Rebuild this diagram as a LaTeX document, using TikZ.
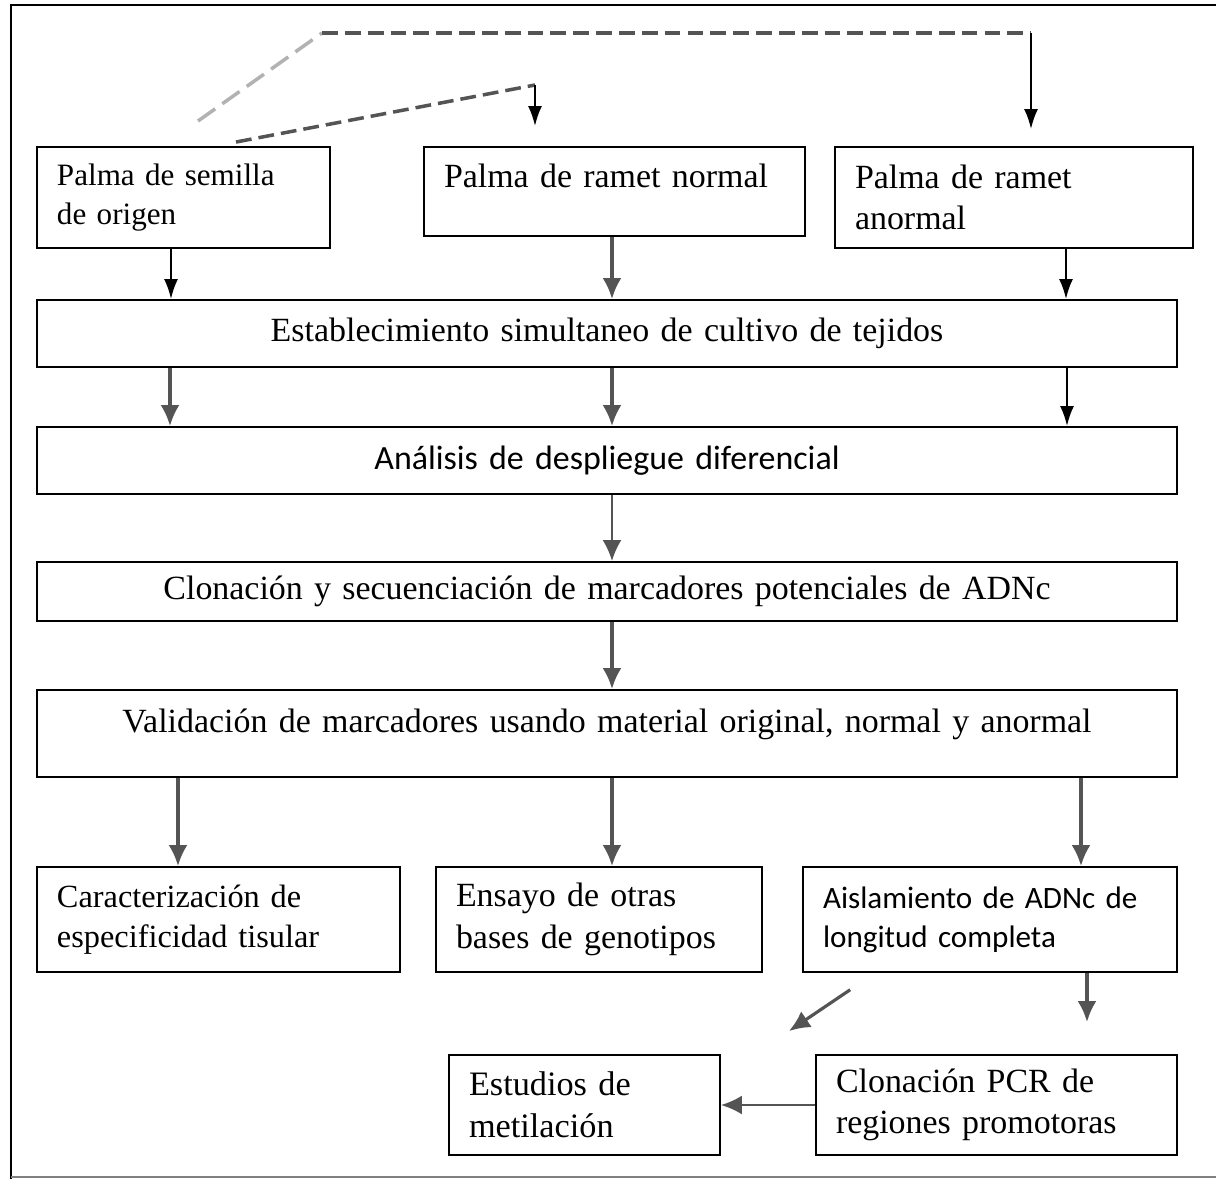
\documentclass[tikz,border=0pt]{standalone}
\usepackage{fontspec}
\setmainfont{Liberation Serif}
\newfontfamily\calibri{Carlito}
\usepackage{tikz}
\usetikzlibrary{arrows.meta,positioning}
\definecolor{flecha}{rgb}{0.33, 0.33, 0.33}
\tikzstyle{every node}=[font=\fontsize{19.3}{23.5}\selectfont]
\tikzstyle{chica}=[font=\fontsize{17.7}{22.2}\selectfont]
\tikzstyle{sans}=[font=\calibri\fontsize{19.3}{23.5}\selectfont]
\tikzstyle{caja}=[draw, line width=1.1pt, rectangle, inner xsep=0.4cm, inner ysep=0pt]
\tikzstyle{gruesa}=[draw=flecha, line width=1.8pt, -{Latex[length=0.42cm,width=0.38cm]}]
\tikzstyle{fina}=[draw=black, line width=1.2pt, -{Latex[length=0.4cm,width=0.28cm]}]
\tikzstyle{punteada}=[draw=flecha, line width=2pt, dash pattern=on 9pt off 4pt]

\begin{document}
\begin{tikzpicture}[scale=1]

\useasboundingbox (0,0) rectangle (24.32,-23.58);
\draw[line width=1.6pt] (0.22,-23.58) -- (0.22,-0.10) -- (24.32,-0.10);
\draw[gray, line width=1pt] (0.22,-23.54) -- (24.32,-23.54);

\node[caja, chica, minimum width=5.86cm, minimum height=2.02cm, text width=5.06cm, align=left] (a) at (3.67,-3.95) {Palma de semilla\\de origen};
\node[caja, minimum width=7.62cm, text width=6.82cm, text height=0.8cm, text depth=0.98cm, align=left] (b) at (12.29,-3.83) {Palma de ramet normal};
\node[caja, minimum width=7.16cm, minimum height=2.02cm, text width=6.36cm, align=left] (c) at (20.28,-3.95) {Palma de ramet\\anormal};
\node[caja, minimum width=22.8cm, minimum height=1.34cm, text width=22cm, align=center] (d) at (12.14,-6.67) {Establecimiento simultaneo de cultivo de tejidos};
\node[caja, sans, minimum width=22.8cm, minimum height=1.34cm, text width=22cm, align=center] (e) at (12.14,-9.21) {Análisis de despliegue diferencial};
\node[caja, minimum width=22.8cm, minimum height=1.18cm, text width=22cm, align=center] (f) at (12.14,-11.83) {Clonación y secuenciación de marcadores potenciales de ADNc};
\node[caja, minimum width=22.8cm, text width=22cm, text height=0.84cm, text depth=0.9cm, align=center] (g) at (12.14,-14.67) {Validación de marcadores usando material original, normal y anormal};
\node[caja, font=\fontsize{18.4}{22.6}\selectfont, minimum width=7.26cm, minimum height=2.1cm, text width=6.46cm, align=left] (h) at (4.37,-18.39) {Caracterización de\\especificidad tisular};
\node[caja, minimum width=6.52cm, minimum height=2.1cm, text width=5.72cm, align=left] (i) at (11.98,-18.39) {Ensayo de otras\\bases de genotipos};
\node[caja, font=\calibri\fontsize{17.7}{22.2}\selectfont, minimum width=7.48cm, minimum height=2.1cm, text width=6.68cm, align=left] (j) at (19.8,-18.39) {Aislamiento de ADNc de\\longitud completa};
\node[caja, font=\fontsize{19.5}{24}\selectfont, minimum width=5.42cm, minimum height=2cm, text width=4.62cm, align=left] (k) at (11.69,-22.1) {Estudios de\\metilación};
\node[caja, minimum width=7.22cm, minimum height=2cm, text width=6.42cm, align=left] (l) at (19.93,-22.1) {Clonación PCR de\\regiones promotoras};

% lineas de arriba
\coordinate (p1) at (6.44,-0.66);
\coordinate (p2) at (20.62,-0.66);
\coordinate (p3) at (10.7,-1.7);
\draw[punteada] ([xshift=1.05cm,yshift=0.08cm]a.north) -- (p3);
\draw[punteada, draw=gray!60, dash pattern=on 12pt off 5pt] ([xshift=0.29cm,yshift=0.5cm]a.north) -- (p1);
\draw[punteada] (p1) -- (p2);
\draw[fina, shorten >=0.4cm] (p3) -- (p3 |- b.north);
\draw[fina, shorten >=0.34cm] (p2) -- (p2 |- c.north);

\draw[fina] ([xshift=-0.25cm]a.south) -- ([xshift=-0.25cm]a.south |- d.north);
\draw[gruesa] ([xshift=-0.05cm]b.south) -- ([xshift=-0.05cm]b.south |- d.north);
\draw[fina] ([xshift=1.04cm]c.south) -- ([xshift=1.04cm]c.south |- d.north);

\draw[gruesa] ([xshift=-8.74cm]d.south) -- ([xshift=-8.74cm]d.south |- e.north);
\draw[gruesa] ([xshift=0.1cm]d.south) -- ([xshift=0.1cm]d.south |- e.north);
\draw[fina] ([xshift=9.2cm]d.south) -- ([xshift=9.2cm]d.south |- e.north);

\draw[gruesa, line width=1.3pt] ([xshift=0.1cm]e.south) -- ([xshift=0.1cm]e.south |- f.north);
\draw[gruesa] ([xshift=0.1cm]f.south) -- ([xshift=0.1cm]f.south |- g.north);

\draw[gruesa] ([xshift=-8.58cm]g.south) -- ([xshift=-8.58cm]g.south |- h.north);
\draw[gruesa] ([xshift=0.1cm]g.south) -- ([xshift=0.1cm]g.south |- i.north);
\draw[gruesa] ([xshift=9.48cm]g.south) -- ([xshift=9.48cm]g.south |- j.north);

\draw[gruesa, shorten >=0.64cm] ([xshift=1.94cm]j.south) -- ([xshift=1.94cm]j.south |- l.north);
\draw[gruesa, shorten <=0.6cm, shorten >=0.82cm] ([xshift=1.46cm]j.south west) -- ([xshift=0.68cm]k.north east);
\draw[gruesa, line width=1.3pt] (l.west) -- (k.east);

\end{tikzpicture}
\end{document}
